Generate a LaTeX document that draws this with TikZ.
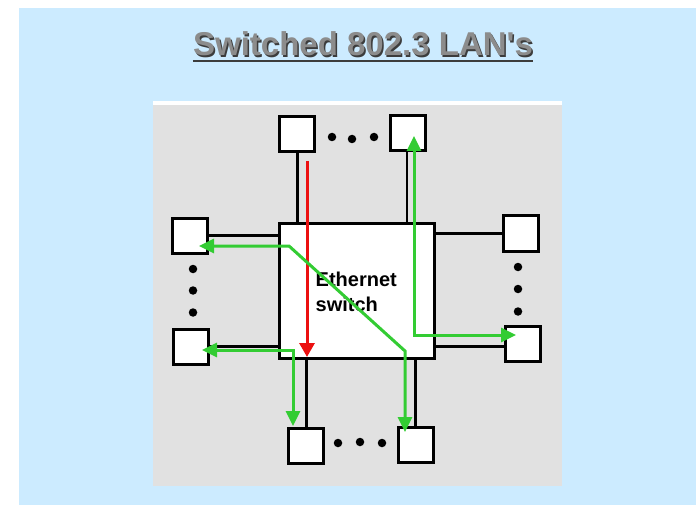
\documentclass[tikz,border=0pt]{standalone}
\usepackage{fontspec}
\setmainfont{Liberation Sans}
\newfontfamily\titlefont{Liberation Sans}
\usetikzlibrary{arrows.meta}
\definecolor{bgblue}{RGB}{204,235,255}
\definecolor{panelgray}{RGB}{225,225,225}
\definecolor{grn}{RGB}{51,204,51}
\definecolor{rd}{RGB}{236,16,16}
\definecolor{titlegray}{RGB}{140,140,140}
\definecolor{titleshadow}{RGB}{60,60,60}
\begin{document}
\begin{tikzpicture}[x=1pt,y=-1pt,
  station/.style={draw=black, fill=white, line width=3pt, minimum width=35pt, minimum height=35pt, inner sep=0pt},
  switchbox/.style={draw=black, fill=white, line width=3pt, minimum width=155pt, minimum height=135pt, inner sep=0pt},
  link/.style={draw=black, line width=3pt},
  thinlink/.style={draw=black, line width=2pt},
  dotmark/.style={circle, fill=black, inner sep=0pt, minimum size=8.5pt},
  garrow/.style={draw=grn, line width=3pt, line join=miter, {Triangle[length=15pt,width=14pt]}-{Triangle[length=15pt,width=14pt]}},
  rarrow/.style={draw=rd, line width=3pt, -{Triangle[length=14pt,width=15pt]}},
  titletext/.style={font=\titlefont\fontsize{33}{38}\selectfont\bfseries, inner sep=0pt, anchor=base},
  labeltext/.style={font=\fontsize{20}{25}\selectfont\bfseries, align=left, inner sep=0pt, anchor=north west}
]
\useasboundingbox (0,0) rectangle (696,505);
\fill[white] (0,0) rectangle (696,505);
\fill[bgblue] (19,8) rectangle (696,505);
% panel
\fill[panelgray] (153,103) rectangle (562,486);
\fill[white] (153,101) rectangle (562,105);
% title
\node[titletext, text=titleshadow] (titleshadow) at (364.5,57.5) {Switched 802.3 LAN's};
\node[titletext, text=titlegray] (title) at (363,56) {Switched 802.3 LAN's};
\draw[titleshadow, line width=2pt] (title.west |- 0,61.5) -- (title.east |- 0,61.5);
% switch and stations
\node[switchbox] (sw) at (357,291) {};
\node[station] (tl) at (296.5,134.5) {};
\node[station] (tr) at (408,133.5) {};
\node[station] (lt) at (189.5,236) {};
\node[station] (lb) at (191,346.5) {};
\node[station] (rt) at (521,233.5) {};
\node[station] (rb) at (522.5,344) {};
\node[station] (bl) at (305.5,446) {};
\node[station] (br) at (415.5,445) {};
% links (drawn behind boxes)
\path[link] ([xshift=1pt]tl.south) -- ([xshift=1pt]tl.south |- sw.north);
\path[thinlink] ([xshift=-1.5pt]tr.south) -- ([xshift=-1.5pt]tr.south |- sw.north);
\path[link] (lt.east) -- (lt.east -| sw.west);
\path[link] (lb.east) -- (lb.east -| sw.west);
\path[link] (rt.west) -- (rt.west -| sw.east);
\path[link] ([yshift=-2pt]rb.west) -- ([yshift=-2pt]rb.west -| sw.east);
\path[link] ([xshift=1pt]bl.north) -- ([xshift=1pt]bl.north |- sw.south);
\path[link] (br.north) -- (br.north |- sw.south);
% redraw boxes on top of links
\node[station] at (tl) {};
\node[station] at (tr) {};
\node[station] at (lt) {};
\node[station] at (lb) {};
\node[station] at (rt) {};
\node[station] at (rb) {};
\node[station] at (bl) {};
\node[station] at (br) {};
\node[switchbox] at (sw) {};
% label
\node[labeltext] (lbl) at (315.5,271.5) {Ethernet\\switch};
% dots
\node[dotmark] (dt1) at (332,137) {};
\node[dotmark] (dt2) at (352,139) {};
\node[dotmark] (dt3) at (374,137) {};
\node[dotmark] (db1) at (338,443) {};
\node[dotmark] (db2) at (360,442) {};
\node[dotmark] (db3) at (382,443) {};
\node[dotmark] (dl1) at (193,269) {};
\node[dotmark] (dl2) at (193,290.5) {};
\node[dotmark] (dl3) at (193,312.5) {};
\node[dotmark] (dr1) at (518,267) {};
\node[dotmark] (dr2) at (518,289) {};
\node[dotmark] (dr3) at (518,311.5) {};
% arrows
\coordinate (r0) at (307,161);
\coordinate (r1) at (307,357);
\path[rarrow] (r0) -- (r1);
\coordinate (g1a) at (199,246);
\coordinate (g1b) at (289,246);
\coordinate (g1c) at (405,351);
\coordinate (g1d) at (405,432);
\path[garrow] (g1a) -- (g1b) -- (g1c) -- (g1d);
\coordinate (g2a) at (414,136);
\coordinate (g2b) at (414,335);
\coordinate (g2c) at (516,335);
\path[garrow] (g2a) -- (g2b) -- (g2c);
\coordinate (g3a) at (202,350);
\coordinate (g3b) at (293,350);
\coordinate (g3c) at (293,426);
\path[garrow] (g3a) -- (g3b) -- (g3c);
\end{tikzpicture}
\end{document}
